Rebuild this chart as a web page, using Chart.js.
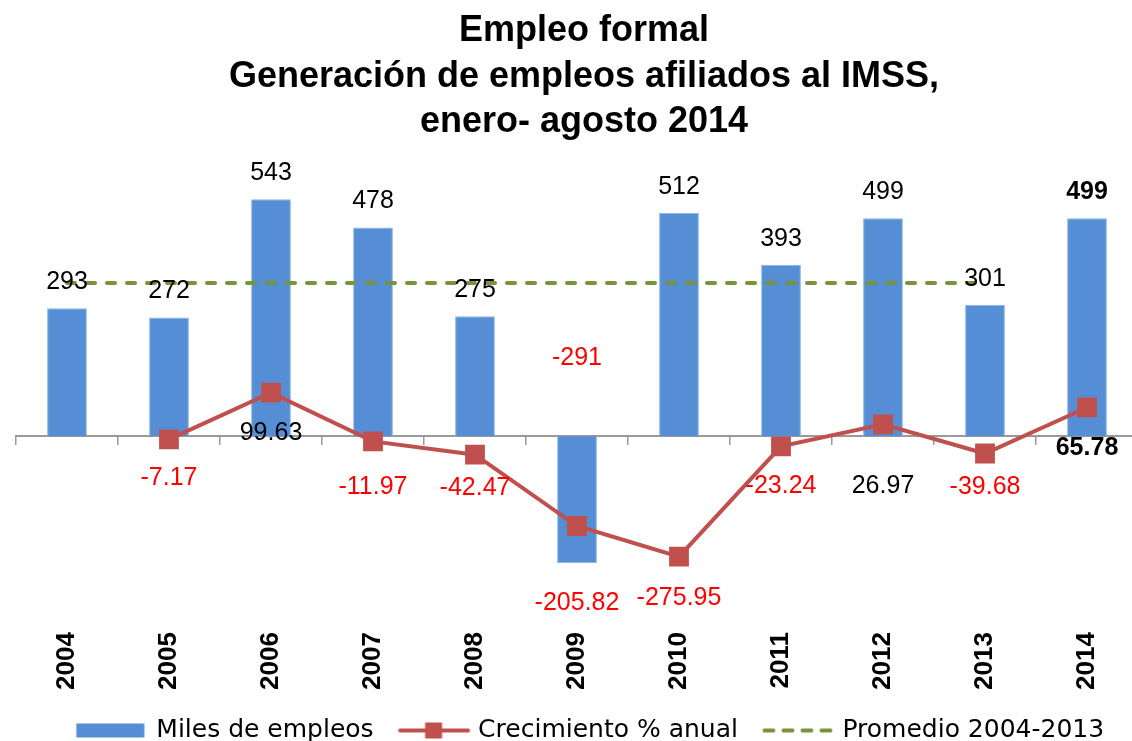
<!DOCTYPE html>
<html>
<head>
<meta charset="utf-8">
<script src="https://cdn.jsdelivr.net/npm/chart.js@4"></script>
<style>
  html, body { margin: 0; padding: 0; background: #fff; overflow: hidden; }
  canvas { display: block; }
</style>
</head>
<body>
<!-- el lienzo es un poco mas grande que la ventana: el area del grafico llega hasta el borde -->
<canvas id="chart" width="1152" height="754"></canvas>
<script>
// datos de la grafica
var years = ["2004", "2005", "2006", "2007", "2008", "2009", "2010", "2011", "2012", "2013", "2014"];
var empleos = [293, 272, 543, 478, 275, -291, 512, 393, 499, 301, 499];
var crecimiento = [null, -7.17, 99.63, -11.97, -42.47, -205.82, -275.95, -23.24, 26.97, -39.68, 65.78];
var promedio = [351, 351, 351, 351, 351, 351, 351, 351, 351, 351, null];
var seriesNames = ["Miles de empleos", "Crecimiento % anual", "Promedio 2004-2013"];
var titleLines = ["Empleo formal", "Generación de empleos afiliados al IMSS,", "enero- agosto 2014"];

var FONT = "'Liberation Sans', Arial, sans-serif";
var FONT_LEYENDA = "'DejaVu Sans', sans-serif";
var AZUL = "#558ED5";
var ROJO = "#C0504D";
var VERDE = "#77933C";

// simbolos de la leyenda, al estilo de Excel (con margen a la izquierda)
function simbolo(tipo) {
  var c = document.createElement("canvas");
  c.width = 92;
  c.height = 22;
  var g = c.getContext("2d");
  var x0 = 18.5, x1 = 90.5;
  if (tipo === 0) {
    g.fillStyle = AZUL;
    g.fillRect(x0, 4, 68, 14);
  } else if (tipo === 1) {
    g.strokeStyle = ROJO;
    g.lineWidth = 4;
    g.lineCap = "round";
    g.beginPath(); g.moveTo(x0 + 2, 11); g.lineTo(x1 - 2, 11); g.stroke();
    g.fillStyle = ROJO;
    g.fillRect(x0 + 27, 3, 17, 16);
  } else {
    g.strokeStyle = VERDE;
    g.lineWidth = 4;
    g.lineCap = "round";
    g.setLineDash([9, 10]);
    g.beginPath(); g.moveTo(x0 + 2, 11); g.lineTo(x1, 11); g.stroke();
  }
  return c;
}
var simbolos = [simbolo(0), simbolo(1), simbolo(2)];

// etiquetas de datos
var etiquetas = {
  id: "etiquetas",
  afterDatasetsDraw: function (chart) {
    var ctx = chart.ctx;
    var last = years.length - 1;
    var zero = chart.scales.y.getPixelForValue(0);
    ctx.save();
    ctx.textAlign = "center";
    ctx.textBaseline = "middle";

    chart.getDatasetMeta(0).data.forEach(function (bar, i) {
      var v = empleos[i];
      var y = v >= 0 ? bar.y - 26 : zero - 78;
      ctx.fillStyle = v < 0 ? "#FF0000" : "#000";
      ctx.font = (i === last ? "bold " : "") + "25px " + FONT;
      ctx.fillText(String(v), bar.x, y);
    });

    var abajo = [0, 39, 40, 46, 33, 77, 41, 40, 62, 34, 41];
    chart.getDatasetMeta(1).data.forEach(function (p, i) {
      var v = crecimiento[i];
      if (v === null) return;
      ctx.fillStyle = v < 0 ? "#FF0000" : "#000";
      ctx.font = (i === last ? "bold " : "") + "25px " + FONT;
      ctx.fillText(v.toFixed(2), p.x, p.y + abajo[i]);
    });
    ctx.restore();
  }
};

var ctx = document.getElementById("chart").getContext("2d");
var chart = new Chart(ctx, {
  type: "bar",
  data: {
    labels: years,
    datasets: [
      {
        label: seriesNames[0],
        data: empleos,
        backgroundColor: AZUL,
        borderColor: "#8DB3E2",
        borderWidth: 1,
        barPercentage: 0.39,
        categoryPercentage: 1,
        xAxisID: "x",
        order: 3
      },
      {
        type: "line",
        label: seriesNames[1],
        data: crecimiento,
        borderColor: ROJO,
        backgroundColor: ROJO,
        borderWidth: 4,
        pointStyle: "rect",
        pointRadius: 14,
        pointBorderWidth: 0,
        pointBackgroundColor: ROJO,
        tension: 0,
        xAxisID: "x",
        order: 1
      },
      {
        type: "line",
        label: seriesNames[2],
        data: promedio,
        borderColor: VERDE,
        borderWidth: 4,
        borderDash: [8, 12],
        borderCapStyle: "round",
        pointRadius: 0,
        fill: false,
        xAxisID: "x",
        order: 2
      }
    ]
  },
  options: {
    responsive: false,
    animation: false,
    layout: { padding: { left: 16, right: 0, top: 0, bottom: 1 } },
    plugins: {
      title: {
        display: true,
        text: titleLines,
        color: "#000",
        font: { family: FONT, size: 36, weight: "bold", lineHeight: 1.27 },
        padding: { top: 8, bottom: 30 }
      },
      legend: {
        position: "bottom",
        labels: {
          usePointStyle: true,
          pointStyleWidth: 80,
          boxHeight: 22,
          color: "#000",
          padding: 12,
          font: { family: FONT_LEYENDA, size: 25 },
          generateLabels: function (chart) {
            return chart.data.datasets.map(function (ds, i) {
              return {
                text: ds.label,
                pointStyle: simbolos[i],
                datasetIndex: i,
                fontColor: "#000",
                hidden: !chart.isDatasetVisible(i),
                lineWidth: 0,
                strokeStyle: "rgba(0,0,0,0)",
                fillStyle: "rgba(0,0,0,0)"
              };
            });
          }
        }
      },
      tooltip: { enabled: false }
    },
    scales: {
      x: {
        position: "bottom",
        grid: { display: false },
        border: { display: false },
        ticks: {
          minRotation: 90,
          maxRotation: 90,
          color: "#000",
          padding: 16,
          font: { family: FONT, size: 26, weight: "bold" }
        }
      },
      x2: {
        type: "category",
        position: { y: 0 },
        offset: true,
        grid: {
          offset: true,
          drawOnChartArea: false,
          drawTicks: true,
          tickLength: 8,
          color: "#999999",
          lineWidth: 1.5
        },
        border: { display: true, color: "#999999", width: 2 },
        ticks: { display: false }
      },
      y: {
        display: false,
        min: -394,
        max: 598
      }
    }
  },
  plugins: [etiquetas]
});
</script>
</body>
</html>
